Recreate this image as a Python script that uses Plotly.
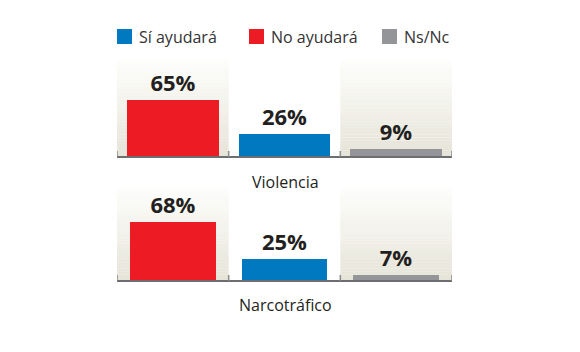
import plotly.graph_objects as go

# ---- data ----
categories = ["No ayudará", "Sí ayudará", "Ns/Nc"]
bar_colors = ["#ED1C24", "#0079C1", "#939598"]
panel_names = ["Violencia", "Narcotráfico"]
violencia = [65, 26, 9]
narcotrafico = [68, 25, 7]
legend_labels = ["Sí ayudará", "No ayudará", "Ns/Nc"]
legend_colors = ["#0079C1", "#ED1C24", "#939598"]

W, H = 580, 352
FONT = "Open Sans"
TXT = "#231F20"

fig = go.Figure()

panels = [
    dict(vals=violencia, top=60, bottom=157, ymax=111, width=0.82, xa="x", ya="y", name=panel_names[0], label_y=182),
    dict(vals=narcotrafico, top=188, bottom=281, ymax=107, width=0.77, xa="x2", ya="y2", name=panel_names[1], label_y=305),
]

xpos = list(range(len(categories)))
shapes = []
annotations = []

def lerp(c0, c1, t):
    return "rgb(%d,%d,%d)" % tuple(round(a + (b - a) * t) for a, b in zip(c0, c1))

top_c = (253, 253, 251)
bot_c = (230, 228, 216)
N = 30

for i, p in enumerate(panels):
    fig.add_trace(go.Bar(
        x=xpos, y=p["vals"], width=p["width"],
        marker=dict(color=bar_colors, line=dict(width=0)),
        text=[f"{v}%" for v in p["vals"]], textposition="outside",
        textfont=dict(family=FONT, size=22, color=TXT, weight=700),
        cliponaxis=False, showlegend=False, hoverinfo="skip",
        xaxis=p["xa"], yaxis=p["ya"],
    ))
    axn = "" if i == 0 else "2"
    fig.layout["xaxis" + axn] = dict(domain=[117 / W, 452 / W], range=[-0.5, 2.5], visible=False, fixedrange=True)
    fig.layout["yaxis" + axn] = dict(domain=[1 - p["bottom"] / H, 1 - p["top"] / H], range=[0, p["ymax"]],
                                     visible=False, fixedrange=True)
    xr = p["xa"]
    yr = p["ya"] + " domain"
    # gradient background columns
    for col in (0, 2):
        for k in range(N):
            t = k / (N - 1)
            shapes.append(dict(type="rect", xref=xr, yref=yr, x0=col - 0.5, x1=col + 0.5,
                               y0=k / N, y1=(k + 1) / N + 0.002, fillcolor=lerp(bot_c, top_c, t),
                               line=dict(width=0), layer="below"))
    # baseline
    shapes.append(dict(type="line", xref=xr + " domain", yref=yr, x0=0, x1=1, y0=0, y1=0,
                       line=dict(color="#6D6E71", width=2), layer="above"))
    # ticks
    for tx in (-0.5, 0.5, 1.5, 2.5):
        shapes.append(dict(type="line", xref=xr, yref=yr, x0=tx, x1=tx, y0=0, y1=6 / (p["bottom"] - p["top"]),
                           line=dict(color="#8A8B8D", width=1.5), layer="above"))
    annotations.append(dict(text=p["name"], xref="paper", yref="paper", x=285 / W, y=1 - p["label_y"] / H,
                            showarrow=False, xanchor="center", yanchor="middle",
                            font=dict(family=FONT, size=16, color=TXT)))

# legend
leg_x = [117, 249, 382]
for lx, lab, c in zip(leg_x, legend_labels, legend_colors):
    shapes.append(dict(type="rect", xref="paper", yref="paper", x0=lx / W, x1=(lx + 15) / W,
                       y0=1 - 44 / H, y1=1 - 29 / H, fillcolor=c, line=dict(width=0)))
    annotations.append(dict(text=lab, xref="paper", yref="paper", x=(lx + 20) / W, y=1 - 37 / H,
                            showarrow=False, xanchor="left", yanchor="middle",
                            font=dict(family=FONT, size=16, color="#333333")))

fig.update_layout(
    width=W, height=H, margin=dict(l=0, r=0, t=0, b=0),
    paper_bgcolor="white", plot_bgcolor="rgba(0,0,0,0)",
    shapes=shapes, annotations=annotations, bargap=0, showlegend=False,
    uniformtext=dict(mode=False),
)

fig.write_html("out.html", config={"displayModeBar": False})
